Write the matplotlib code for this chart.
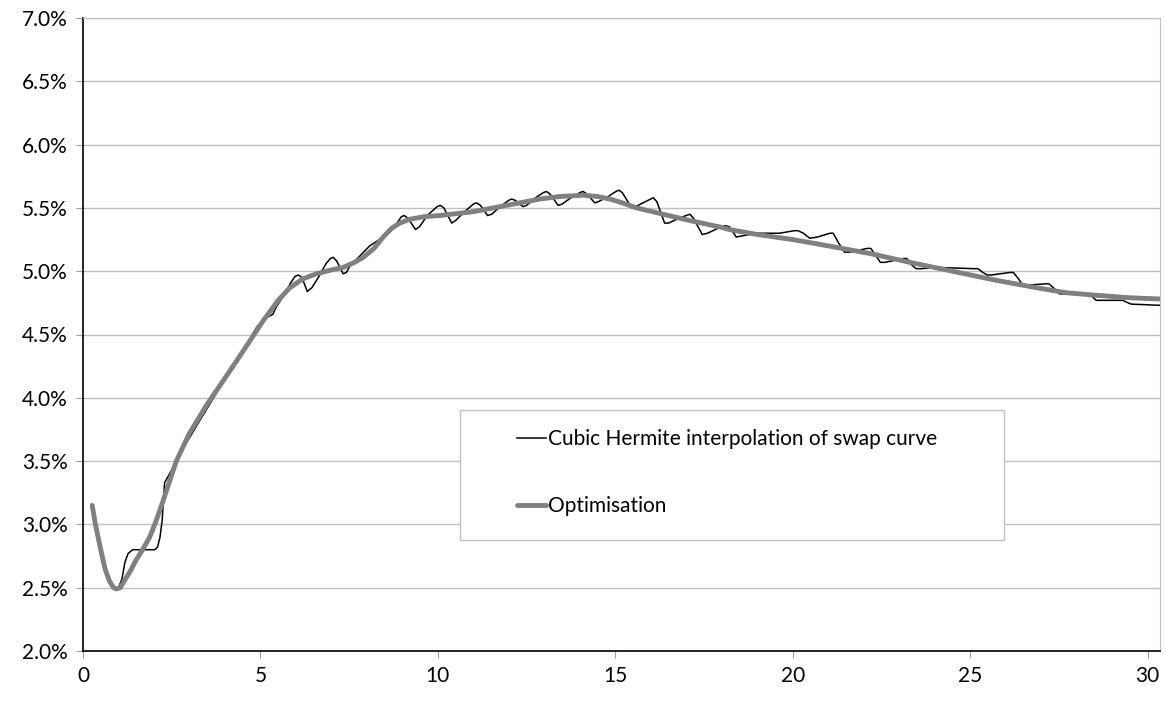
import matplotlib
matplotlib.use("Agg")
import matplotlib.pyplot as plt
from matplotlib.patches import Rectangle
from matplotlib.ticker import MultipleLocator, FuncFormatter

# cubic Hermite interpolation of swap curve (maturity in years, rate in %)
hermite_t = [1.0, 1.1, 1.18, 1.27, 1.4, 2.02, 2.1, 2.17, 2.23, 2.3, 2.44, 2.82, 3.29, 3.94,
             4.42, 4.9, 5.1, 5.22, 5.35, 5.45, 5.64, 5.88, 5.98, 6.07, 6.17, 6.32, 6.45,
             6.63, 6.85, 6.97, 7.05, 7.15, 7.33, 7.42,
             7.52, 7.8, 8.08, 8.35, 8.65, 8.85, 8.97, 9.05, 9.15, 9.37, 9.48, 9.7, 9.98,
             10.07, 10.17, 10.39, 10.5, 10.75, 11.0,
             11.09, 11.2, 11.4, 11.52, 11.75, 12.0, 12.08, 12.18, 12.4, 12.5, 12.75, 12.97,
             13.06, 13.16, 13.39, 13.5, 13.75, 14.0, 14.09, 14.2, 14.42, 14.53,
             14.8, 15.02, 15.1, 15.2, 15.46, 15.58, 15.78, 16.0, 16.07, 16.17, 16.39, 16.5,
             16.73, 17.0, 17.1, 17.2, 17.45, 17.6, 17.9, 18.1, 18.22,
             18.41, 18.6, 18.97, 19.63, 20.05, 20.15, 20.3, 20.48, 20.7, 21.05, 21.14,
             21.3, 21.46, 21.6, 22.1, 22.2, 22.35, 22.47, 22.6, 23.12, 23.22, 23.35, 23.48,
             23.62, 24.05, 25.1, 25.22, 25.36, 25.48, 25.6, 26.12, 26.22, 26.36, 26.48,
             26.6, 27.12, 27.22, 27.38, 27.52, 28.3, 28.4, 28.55, 29.22, 29.3, 29.45,
             29.54, 30.4]
hermite_r = [2.50, 2.57, 2.70, 2.77, 2.80, 2.80, 2.82, 2.90, 3.03, 3.33, 3.40, 3.60, 3.82, 4.12,
             4.33, 4.56, 4.62, 4.64, 4.66, 4.72, 4.80, 4.92, 4.96, 4.97, 4.95, 4.84, 4.87,
             4.95, 5.06, 5.10, 5.11, 5.08, 4.98, 4.99,
             5.04, 5.12, 5.20, 5.25, 5.31, 5.38, 5.43, 5.44, 5.42, 5.33, 5.35, 5.44, 5.51,
             5.52, 5.50, 5.38, 5.40, 5.47, 5.53,
             5.54, 5.52, 5.44, 5.45, 5.51, 5.56, 5.57, 5.56, 5.51, 5.52, 5.58, 5.62,
             5.63, 5.61, 5.52, 5.53, 5.58, 5.62, 5.63, 5.61, 5.54, 5.55,
             5.59, 5.63, 5.64, 5.62, 5.50, 5.51, 5.54, 5.57, 5.58, 5.55, 5.38, 5.38,
             5.41, 5.44, 5.45, 5.42, 5.29, 5.30, 5.34, 5.36, 5.35,
             5.27, 5.28, 5.30, 5.30, 5.32, 5.32, 5.30, 5.26, 5.27, 5.30, 5.30,
             5.22, 5.15, 5.15, 5.18, 5.18, 5.12, 5.07, 5.07, 5.10, 5.10, 5.05, 5.02,
             5.02, 5.03, 5.02, 5.02, 4.99, 4.97, 4.97, 4.99, 4.99, 4.94, 4.89,
             4.89, 4.90, 4.90, 4.86, 4.82, 4.82, 4.81, 4.77, 4.77, 4.77, 4.75,
             4.74, 4.73]

# optimised curve
optim_t = [0.26, 0.35, 0.5, 0.62, 0.75, 0.86, 0.94, 1.05, 1.2, 1.35, 1.5, 1.7, 1.88, 2.05,
           2.25, 2.45, 2.63, 3.0, 3.5, 3.94, 4.42,
           5.08, 5.5, 5.83, 6.2, 6.58, 7.0, 7.33, 7.65, 7.9, 8.2, 8.46, 8.7, 8.93,
           9.2, 9.6, 10.06, 11.0, 11.94, 12.87, 13.44, 14.09, 14.5, 14.85, 15.2,
           15.6, 16.35, 17.1, 17.94, 18.2, 19.0, 20.0, 21.0, 22.17, 23.3, 24.5,
           25.7, 26.86, 27.7, 28.55, 29.5, 30.4]
optim_r = [3.15, 3.00, 2.80, 2.65, 2.55, 2.50, 2.49, 2.50, 2.57, 2.64, 2.72, 2.81, 2.90, 3.02,
           3.18, 3.35, 3.50, 3.72, 3.95, 4.13, 4.33,
           4.61, 4.77, 4.87, 4.94, 4.98, 5.01, 5.03, 5.07, 5.11, 5.18, 5.27, 5.34, 5.38,
           5.41, 5.43, 5.44, 5.47, 5.52, 5.57, 5.59, 5.60, 5.59, 5.57, 5.54,
           5.50, 5.45, 5.40, 5.35, 5.33, 5.29, 5.25, 5.20, 5.14, 5.07, 5.00,
           4.93, 4.87, 4.83, 4.81, 4.79, 4.78]

labels = ["Cubic Hermite interpolation of swap curve", "Optimisation"]

plt.rcParams["font.family"] = ["Lato", "DejaVu Sans"]

fig = plt.figure(figsize=(11.66, 7.02), dpi=100)
ax = fig.add_axes([83 / 1166, 1 - 651 / 702, (1160 - 83) / 1166, (651 - 18) / 702])

ax.plot(hermite_t, hermite_r, color="black", linewidth=1.1, label=labels[0], zorder=3)
ax.plot(optim_t, optim_r, color="#808080", linewidth=3.5, label=labels[1],
        solid_capstyle="round", solid_joinstyle="round", zorder=4)

ax.set_xlim(0, 30.35)
ax.set_ylim(2.0, 7.0)
ax.xaxis.set_major_locator(MultipleLocator(5))
ax.yaxis.set_major_locator(MultipleLocator(0.5))
ax.yaxis.set_major_formatter(FuncFormatter(lambda v, p: f"{v:.1f}%"))
ax.grid(axis="y", color="#c0c0c0", linewidth=1)
ax.set_axisbelow(True)

for side in ["top", "right"]:
    ax.spines[side].set_color("#c0c0c0")
for side in ["left", "bottom"]:
    ax.spines[side].set_color("black")
    ax.spines[side].set_linewidth(1.2)

ax.tick_params(axis="both", labelsize=15, color="#a0a0a0", length=5, pad=6)

# legend box
ax.add_patch(Rectangle((460 / 1166, 1 - 540 / 702), 544 / 1166, 130 / 702,
                       transform=fig.transFigure, facecolor="white",
                       edgecolor="#c0c0c0", linewidth=1, zorder=5))
leg = ax.legend(loc="upper left", bbox_to_anchor=(517 / 1166, 1 - 429 / 702),
                bbox_transform=fig.transFigure, frameon=False, fontsize=15,
                borderpad=0, borderaxespad=0,
                handlelength=1.4, handletextpad=0.1, labelspacing=2.28)
leg.set_zorder(6)

fig.savefig("out.png", dpi=100)
